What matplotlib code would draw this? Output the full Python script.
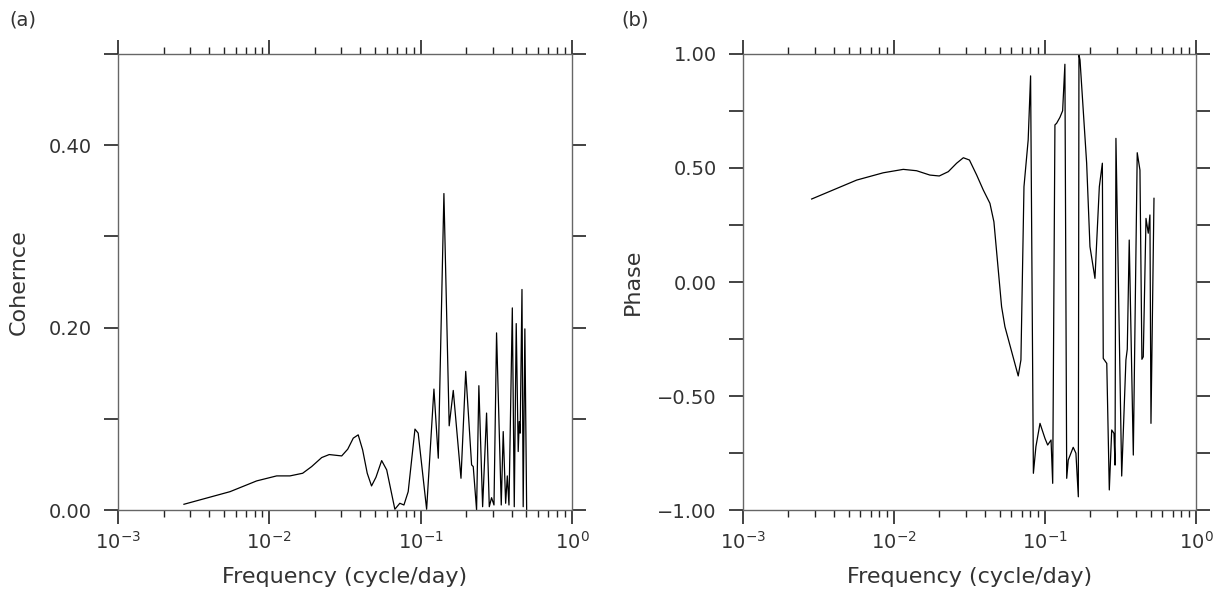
"""Coherence and phase spectra, two log-frequency panels."""
import numpy as np
import matplotlib
matplotlib.use("Agg")
import matplotlib.pyplot as plt

# (a) coherence
coh_freq = [0.00273, 0.00550, 0.00825, 0.01119, 0.01370, 0.01662, 0.01905,
            0.0222, 0.0249, 0.0301, 0.0330, 0.0359, 0.0387, 0.0414, 0.0444,
            0.0474, 0.0507, 0.0553, 0.0597, 0.0676, 0.0729, 0.0776, 0.0828,
            0.0918, 0.0964, 0.1096, 0.1225, 0.1309, 0.1426, 0.1545, 0.1644,
            0.1849, 0.1987, 0.2173, 0.2228, 0.2344, 0.2427, 0.2570, 0.2729,
            0.2844, 0.2944, 0.3055, 0.3177, 0.3412, 0.3516, 0.3648, 0.3741,
            0.3837, 0.4038, 0.4159, 0.4285, 0.4416, 0.4487, 0.4550, 0.4677,
            0.4764, 0.4887, 0.5023]
coh_vals = [0.0063, 0.0201, 0.0319, 0.0374, 0.0374, 0.0403, 0.0476,
            0.0575, 0.0608, 0.0593, 0.0667, 0.0788, 0.0824, 0.0659, 0.0403,
            0.0264, 0.0359, 0.0542, 0.0440, 0.0008, 0.0074, 0.0055, 0.0201,
            0.0887, 0.0843, 0.0008, 0.1326, 0.0568, 0.347, 0.0923, 0.1311,
            0.0348, 0.1520, 0.0495, 0.0476, 0.0, 0.1363, 0.0036, 0.1063,
            0.0036, 0.0135, 0.0055, 0.1942, 0.0055, 0.0860, 0.0074, 0.0374,
            0.0055, 0.2216, 0.0036, 0.2044, 0.0641, 0.0970, 0.0843, 0.2418,
            0.0036, 0.1986, 0.0]

# (b) phase
ph_freq = [0.00285, 0.00566, 0.00849, 0.01152, 0.01412, 0.01729, 0.01995,
           0.0229, 0.0260, 0.0288, 0.0316, 0.0353, 0.0390, 0.0432, 0.0459,
           0.0516, 0.0543, 0.0665, 0.0693, 0.0726, 0.0774, 0.0803, 0.0838,
           0.0871, 0.0927, 0.1000, 0.1042, 0.1097, 0.1125, 0.1164, 0.1194,
           0.1256, 0.1309, 0.1355, 0.1393, 0.1426, 0.1538, 0.1603, 0.1663,
           0.1679, 0.1706, 0.1888, 0.1986, 0.2143, 0.2291, 0.2399, 0.2432,
           0.2566, 0.2667, 0.2767, 0.2864, 0.2911, 0.2951, 0.3222, 0.3436,
           0.3508, 0.3614, 0.3846, 0.4083, 0.4256, 0.4385, 0.4477, 0.4667,
           0.4831, 0.4955, 0.5035, 0.5272]
ph_vals = [0.364, 0.447, 0.479, 0.494, 0.488, 0.469, 0.465,
           0.484, 0.521, 0.545, 0.535, 0.469, 0.404, 0.345, 0.264,
           -0.108, -0.196, -0.412, -0.342, 0.418, 0.623, 0.904, -0.839,
           -0.722, -0.620, -0.686, -0.715, -0.693, -0.883, 0.689, 0.696,
           0.722, 0.751, 0.955, -0.861, -0.781, -0.725, -0.751, -0.942,
           0.996, 0.974, 0.521, 0.155, 0.016, 0.418, 0.521, -0.335,
           -0.357, -0.912, -0.649, -0.664, -0.803, 0.630, -0.851, -0.342,
           -0.295, 0.184, -0.759, 0.567, 0.491, -0.339, -0.328, 0.279,
           0.214, 0.294, -0.620, 0.367]

coh_ticks = [0.0, 0.1, 0.2, 0.3, 0.4, 0.5]
coh_labels = ["0.00", "", "0.20", "", "0.40", ""]
ph_ticks = [-1.0, -0.75, -0.5, -0.25, 0.0, 0.25, 0.5, 0.75, 1.0]
ph_labels = ["\u22121.00", "", "\u22120.50", "", "0.00", "", "0.50", "", "1.00"]

plt.rcParams["font.family"] = ["DejaVu Sans"]
plt.rcParams["text.color"] = "#333333"
plt.rcParams["axes.labelcolor"] = "#333333"
plt.rcParams["xtick.color"] = "#222222"
plt.rcParams["ytick.color"] = "#222222"
plt.rcParams["xtick.labelcolor"] = "#333333"
plt.rcParams["ytick.labelcolor"] = "#333333"


def style_axes(ax, ticks, labels, ylabel, ylim, ypad):
    ax.set_xscale("log")
    ax.set_xlim(1e-3, 1.0)
    ax.set_ylim(*ylim)
    ax.set_yticks(ticks)
    ax.set_yticklabels(labels)
    for sp in ax.spines.values():
        sp.set_color("#666666")
        sp.set_linewidth(1.0)
    ax.tick_params(axis="both", which="both", direction="out",
                   top=True, right=True, labelsize=14)
    ax.tick_params(axis="both", which="major", length=10, width=1.2)
    ax.tick_params(axis="x", which="minor", length=5, width=1.0)
    ax.tick_params(axis="y", which="major", pad=9)
    ax.tick_params(axis="x", which="major", pad=5)
    ax.set_xlabel("Frequency (cycle/day)", fontsize=16, labelpad=10)
    ax.set_ylabel(ylabel, fontsize=16, labelpad=ypad)


fig = plt.figure(figsize=(12.21, 5.94), dpi=100)
ax1 = fig.add_axes([0.0966, 0.1414, 0.3718, 0.7677])
ax2 = fig.add_axes([0.6085, 0.1414, 0.3710, 0.7677])

ax1.plot(coh_freq, coh_vals, color="black", linewidth=0.9)
style_axes(ax1, coh_ticks, coh_labels, "Cohernce", (0.0, 0.5), 14)

ax2.plot(ph_freq, ph_vals, color="black", linewidth=0.9)
style_axes(ax2, ph_ticks, ph_labels, "Phase", (-1.0, 1.0), 10)

fig.text(0.008, 0.982, "(a)", fontsize=14, va="top", ha="left")
fig.text(0.509, 0.982, "(b)", fontsize=14, va="top", ha="left")

fig.savefig("out.png", dpi=100)
